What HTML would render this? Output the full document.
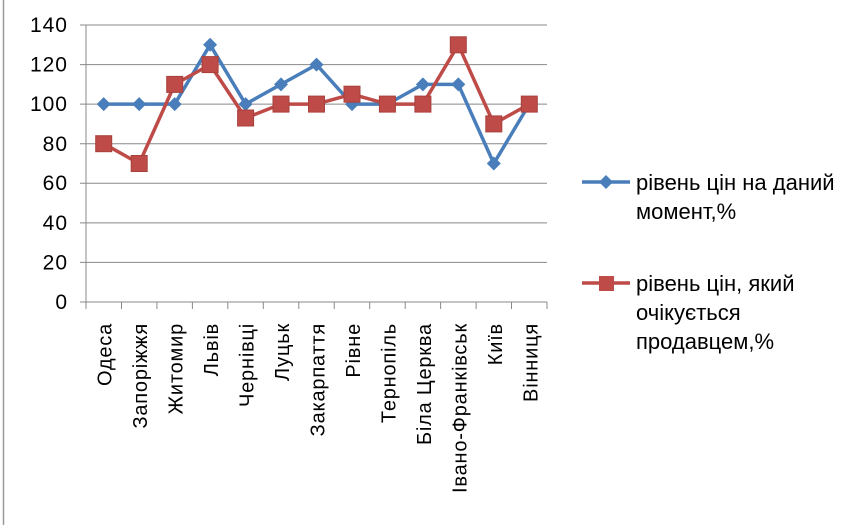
<!DOCTYPE html>
<html><head><meta charset="utf-8"><style>body{margin:0;background:#fff}svg{display:block}</style></head><body>
<svg width="859" height="525" xmlns="http://www.w3.org/2000/svg" font-family="Liberation Sans, DejaVu Sans, sans-serif">
<rect width="859" height="525" fill="#fff"/>
<line x1="3.5" y1="0" x2="3.5" y2="525" stroke="#999" stroke-width="1.5"/>
<g stroke="#888" stroke-width="1">
<line x1="80" y1="25" x2="547" y2="25"/>
<line x1="80" y1="64.6" x2="547" y2="64.6"/>
<line x1="80" y1="104.1" x2="547" y2="104.1"/>
<line x1="80" y1="143.7" x2="547" y2="143.7"/>
<line x1="80" y1="183.3" x2="547" y2="183.3"/>
<line x1="80" y1="222.9" x2="547" y2="222.9"/>
<line x1="80" y1="262.4" x2="547" y2="262.4"/>
<line x1="80" y1="302" x2="547" y2="302"/>
<line x1="86" y1="25" x2="86" y2="302"/>
<line x1="86" y1="302" x2="86" y2="309"/>
<line x1="121.5" y1="302" x2="121.5" y2="309"/>
<line x1="156.9" y1="302" x2="156.9" y2="309"/>
<line x1="192.4" y1="302" x2="192.4" y2="309"/>
<line x1="227.8" y1="302" x2="227.8" y2="309"/>
<line x1="263.3" y1="302" x2="263.3" y2="309"/>
<line x1="298.8" y1="302" x2="298.8" y2="309"/>
<line x1="334.2" y1="302" x2="334.2" y2="309"/>
<line x1="369.7" y1="302" x2="369.7" y2="309"/>
<line x1="405.2" y1="302" x2="405.2" y2="309"/>
<line x1="440.6" y1="302" x2="440.6" y2="309"/>
<line x1="476.1" y1="302" x2="476.1" y2="309"/>
<line x1="511.5" y1="302" x2="511.5" y2="309"/>
<line x1="547" y1="302" x2="547" y2="309"/>
</g>
<g font-size="21" fill="#000" text-anchor="end" letter-spacing="1">
<text x="68" y="32">140</text><text x="68" y="71.6">120</text><text x="68" y="111">100</text>
<text x="68" y="151">80</text><text x="68" y="190">60</text><text x="68" y="230">40</text>
<text x="68" y="269.5">20</text><text x="68" y="309">0</text>
</g>
<polyline points="103.7,104.1 139.2,104.1 174.7,104.1 210.1,44.8 245.6,104.1 281,84.4 316.5,64.6 352,104.1 387.4,104.1 422.9,84.4 458.3,84.4 493.8,163.5 529.3,104.1" fill="none" stroke="#4a7ebb" stroke-width="3.5" stroke-linejoin="round"/>
<polyline points="103.7,143.7 139.2,163.5 174.7,84.4 210.1,64.6 245.6,118 281,104.1 316.5,104.1 352,94.2 387.4,104.1 422.9,104.1 458.3,44.8 493.8,123.9 529.3,104.1" fill="none" stroke="#be4b48" stroke-width="3.5" stroke-linejoin="round"/>
<g fill="#4a7ebb">
<polygon points="103.7,97.1 110.7,104.1 103.7,111.1 96.7,104.1"/>
<polygon points="139.2,97.1 146.2,104.1 139.2,111.1 132.2,104.1"/>
<polygon points="174.7,97.1 181.7,104.1 174.7,111.1 167.7,104.1"/>
<polygon points="210.1,37.8 217.1,44.8 210.1,51.8 203.1,44.8"/>
<polygon points="245.6,97.1 252.6,104.1 245.6,111.1 238.6,104.1"/>
<polygon points="281,77.4 288,84.4 281,91.4 274,84.4"/>
<polygon points="316.5,57.6 323.5,64.6 316.5,71.6 309.5,64.6"/>
<polygon points="352,97.1 359,104.1 352,111.1 345,104.1"/>
<polygon points="387.4,97.1 394.4,104.1 387.4,111.1 380.4,104.1"/>
<polygon points="422.9,77.4 429.9,84.4 422.9,91.4 415.9,84.4"/>
<polygon points="458.3,77.4 465.3,84.4 458.3,91.4 451.3,84.4"/>
<polygon points="493.8,156.5 500.8,163.5 493.8,170.5 486.8,163.5"/>
<polygon points="529.3,97.1 536.3,104.1 529.3,111.1 522.3,104.1"/>
</g>
<g fill="#be4b48" stroke="#a8403d" stroke-width="1">
<rect x="95.7" y="135.7" width="16" height="16"/>
<rect x="131.2" y="155.5" width="16" height="16"/>
<rect x="166.7" y="76.4" width="16" height="16"/>
<rect x="202.1" y="56.6" width="16" height="16"/>
<rect x="237.6" y="110" width="16" height="16"/>
<rect x="273" y="96.1" width="16" height="16"/>
<rect x="308.5" y="96.1" width="16" height="16"/>
<rect x="344" y="86.2" width="16" height="16"/>
<rect x="379.4" y="96.1" width="16" height="16"/>
<rect x="414.9" y="96.1" width="16" height="16"/>
<rect x="450.3" y="36.8" width="16" height="16"/>
<rect x="485.8" y="115.9" width="16" height="16"/>
<rect x="521.3" y="96.1" width="16" height="16"/>
</g>
<g font-size="20" fill="#000" text-anchor="end" letter-spacing="0.8">
<text transform="translate(111.7,323) rotate(-90)">Одеса</text>
<text transform="translate(147.2,323) rotate(-90)">Запоріжжя</text>
<text transform="translate(182.7,323) rotate(-90)">Житомир</text>
<text transform="translate(218.1,323) rotate(-90)">Львів</text>
<text transform="translate(253.6,323) rotate(-90)">Чернівці</text>
<text transform="translate(289,323) rotate(-90)">Луцьк</text>
<text transform="translate(324.5,323) rotate(-90)">Закарпаття</text>
<text transform="translate(360,323) rotate(-90)">Рівне</text>
<text transform="translate(395.4,323) rotate(-90)">Тернопіль</text>
<text transform="translate(430.9,323) rotate(-90)">Біла Церква</text>
<text transform="translate(466.3,323) rotate(-90)">Івано-Франківськ</text>
<text transform="translate(501.8,323) rotate(-90)">Київ</text>
<text transform="translate(537.3,323) rotate(-90)">Вінниця</text>
</g>
<g font-size="22" fill="#000">
<line x1="582" y1="182" x2="630" y2="182" stroke="#4a7ebb" stroke-width="3.5"/>
<polygon points="606,175 613,182 606,189 599,182" fill="#4a7ebb"/>
<text x="636" y="190">рівень цін на даний</text>
<text x="636" y="219">момент,%</text>
<line x1="582" y1="283" x2="630" y2="283" stroke="#be4b48" stroke-width="3.5"/>
<rect x="599" y="276" width="15" height="15" fill="#be4b48"/>
<text x="636" y="291">рівень цін, який</text>
<text x="636" y="320">очікується</text>
<text x="636" y="349">продавцем,%</text>
</g>
</svg>
</body></html>
